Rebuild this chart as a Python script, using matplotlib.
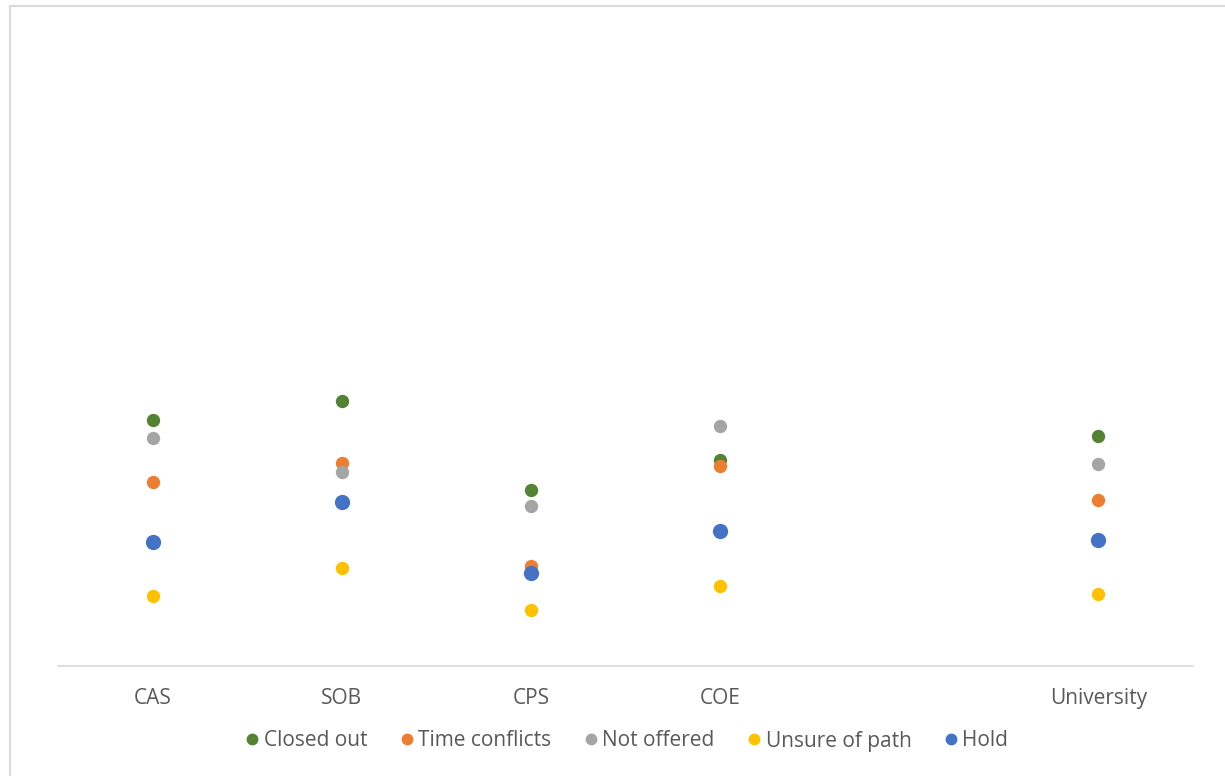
import matplotlib.pyplot as plt
from matplotlib.lines import Line2D
from matplotlib.patches import Rectangle

plt.rcParams['font.family'] = ['Open Sans', 'DejaVu Sans']

# categories (slot 5 is an empty gap on the axis)
categories = ['CAS', 'SOB', 'CPS', 'COE', '', 'University']
cat_pos = [1, 2, 3, 4, 6]

series_names = ['Closed out', 'Time conflicts', 'Not offered', 'Unsure of path', 'Hold']
closed_out = [38.2, 41.1, 27.3, 32.0, 35.7]
time_conflicts = [28.5, 31.5, 15.6, 31.1, 25.8]
not_offered = [35.4, 30.1, 24.9, 37.3, 31.3]
unsure_of_path = [10.9, 15.2, 8.7, 12.4, 11.2]
hold = [19.2, 25.5, 14.5, 20.9, 19.5]

colors = ['#548235', '#ED7D31', '#A5A5A5', '#FFC000', '#4472C4']
sizes = [9.6, 9.6, 9.6, 9.6, 11.0]

fig = plt.figure(figsize=(12.25, 7.76), dpi=100)
ax = fig.add_axes([58 / 1225, 110 / 776, (1193 - 58) / 1225, (666 - 22) / 776])

all_series = [closed_out, time_conflicts, not_offered, unsure_of_path, hold]
for vals, name, c, ms in zip(all_series, series_names, colors, sizes):
    ax.plot(cat_pos, vals, linestyle='none', marker='o', markersize=ms,
            color=c, markeredgewidth=0, label=name)

ax.set_xlim(0.5, 6.5)
ax.set_ylim(0, 100)
ax.set_xticks(range(1, 7))
ax.set_xticklabels(categories)
ax.tick_params(axis='x', length=0, pad=16, labelsize=15, labelcolor='#595959')
ax.set_yticks([])
for side in ['top', 'right', 'left']:
    ax.spines[side].set_visible(False)
ax.spines['bottom'].set_color('#d9d9d9')
ax.spines['bottom'].set_linewidth(1.2)

handles = [Line2D([], [], linestyle='none', marker='o', markersize=8.5,
                  color=c, markeredgewidth=0) for c in colors]
fig.legend(handles, series_names, loc='center', ncol=5,
           bbox_to_anchor=(625 / 1225, 35 / 776), frameon=False,
           fontsize=15, labelcolor='#595959', handletextpad=0.05,
           columnspacing=1.4, handlelength=1.0)

# outer chart border
fig.patches.append(Rectangle((10 / 1225, -0.05), 1.1, 0.05 + (776 - 6) / 776,
                             transform=fig.transFigure, fill=False,
                             edgecolor='#d9d9d9', linewidth=1.5))

fig.savefig('out.png', dpi=100, facecolor='white')
